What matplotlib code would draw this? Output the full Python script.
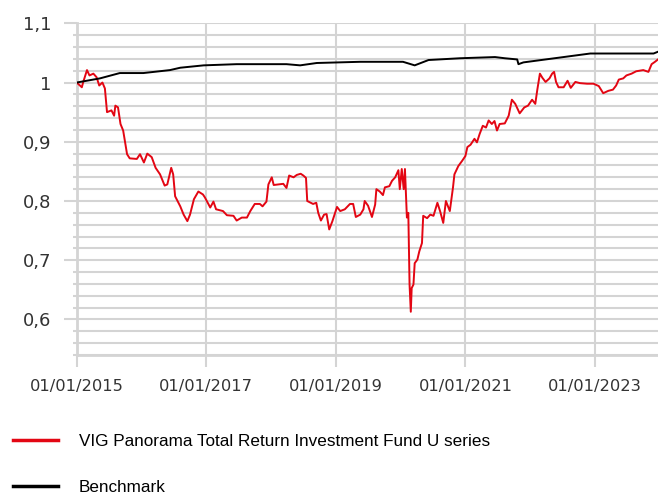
import matplotlib
matplotlib.use('Agg')
import matplotlib.pyplot as plt
import matplotlib.dates as mdates
from matplotlib.ticker import MultipleLocator, FuncFormatter
import pandas as pd

# fund (U series)
fund_dates = [
    '2015-01-01', '2015-01-30', '2015-02-06', '2015-02-28', '2015-03-14', '2015-04-05',
    '2015-04-23', '2015-05-08', '2015-05-26', '2015-06-09', '2015-06-21', '2015-07-16',
    '2015-07-31', '2015-08-07', '2015-08-22', '2015-09-05', '2015-09-20', '2015-10-01',
    '2015-10-12', '2015-10-27', '2015-12-06', '2015-12-24', '2016-01-15', '2016-02-03',
    '2016-02-28', '2016-03-21', '2016-04-15', '2016-05-11', '2016-05-26', '2016-06-17',
    '2016-06-28', '2016-07-09', '2016-08-07', '2016-08-26', '2016-09-16', '2016-10-01',
    '2016-10-23', '2016-11-17', '2016-12-13', '2016-12-24', '2017-01-23', '2017-02-10',
    '2017-02-25', '2017-04-05', '2017-04-27', '2017-06-03', '2017-06-21', '2017-07-20',
    '2017-08-18', '2017-09-06', '2017-10-01', '2017-10-30', '2017-11-14', '2017-12-06',
    '2017-12-17', '2018-01-05', '2018-01-16', '2018-03-11', '2018-03-29', '2018-04-13',
    '2018-05-08', '2018-05-26', '2018-06-17', '2018-07-02', '2018-07-17', '2018-07-24',
    '2018-08-26', '2018-09-13', '2018-09-24', '2018-10-09', '2018-10-27', '2018-11-10',
    '2018-11-25', '2018-12-13', '2019-01-08', '2019-01-26', '2019-02-21', '2019-03-22',
    '2019-04-09', '2019-04-24', '2019-05-19', '2019-06-06', '2019-06-13', '2019-07-02',
    '2019-07-24', '2019-08-11', '2019-08-18', '2019-09-06', '2019-09-24', '2019-10-05',
    '2019-10-30', '2019-11-14', '2019-12-02', '2019-12-20', '2019-12-28', '2020-01-08',
    '2020-01-19', '2020-01-26', '2020-02-06', '2020-02-14', '2020-02-21', '2020-02-28',
    '2020-03-04', '2020-03-14', '2020-03-21', '2020-04-05', '2020-04-16', '2020-05-01',
    '2020-05-08', '2020-05-30', '2020-06-17', '2020-07-05', '2020-07-27', '2020-08-11',
    '2020-08-29', '2020-09-13', '2020-10-05', '2020-10-23', '2020-10-31', '2020-11-22',
    '2020-12-14', '2021-01-01', '2021-01-12', '2021-01-30', '2021-02-21', '2021-03-07',
    '2021-03-22', '2021-04-09', '2021-04-27', '2021-05-12', '2021-05-30', '2021-06-14',
    '2021-06-28', '2021-07-13', '2021-08-11', '2021-09-02', '2021-09-20', '2021-10-09',
    '2021-11-03', '2021-11-29', '2021-12-20', '2022-01-12', '2022-01-30', '2022-02-10',
    '2022-02-25', '2022-03-11', '2022-03-29', '2022-04-20', '2022-05-05', '2022-05-16',
    '2022-05-27', '2022-06-10', '2022-07-09', '2022-07-31', '2022-08-18', '2022-09-13',
    '2022-10-09', '2022-11-18', '2022-12-24', '2023-01-23', '2023-02-17', '2023-03-18',
    '2023-04-13', '2023-05-01', '2023-05-16', '2023-06-10', '2023-06-28', '2023-07-27',
    '2023-08-22', '2023-10-01', '2023-10-30', '2023-11-17', '2023-12-06', '2023-12-23',
]
fund_values = [
    1.000, 0.992, 1.000, 1.021, 1.012, 1.015,
    1.009, 0.995, 1.000, 0.990, 0.950, 0.953,
    0.944, 0.961, 0.958, 0.930, 0.919, 0.899,
    0.879, 0.872, 0.871, 0.879, 0.865, 0.880,
    0.874, 0.856, 0.845, 0.826, 0.828, 0.856,
    0.845, 0.808, 0.791, 0.777, 0.766, 0.777,
    0.803, 0.816, 0.811, 0.806, 0.789, 0.799,
    0.786, 0.783, 0.776, 0.775, 0.767, 0.772,
    0.772, 0.783, 0.795, 0.795, 0.791, 0.799,
    0.828, 0.840, 0.827, 0.829, 0.822, 0.843,
    0.840, 0.844, 0.846, 0.843, 0.839, 0.800,
    0.795, 0.797, 0.780, 0.767, 0.777, 0.778,
    0.752, 0.766, 0.790, 0.783, 0.786, 0.795,
    0.795, 0.773, 0.777, 0.786, 0.800, 0.792,
    0.773, 0.794, 0.820, 0.816, 0.810, 0.823,
    0.825, 0.834, 0.840, 0.852, 0.820, 0.854,
    0.820, 0.854, 0.772, 0.780, 0.659, 0.613,
    0.653, 0.659, 0.695, 0.701, 0.715, 0.729,
    0.775, 0.771, 0.777, 0.775, 0.797, 0.783,
    0.763, 0.800, 0.783, 0.823, 0.845, 0.859,
    0.868, 0.876, 0.891, 0.895, 0.905, 0.899,
    0.913, 0.927, 0.924, 0.936, 0.930, 0.935,
    0.919, 0.930, 0.931, 0.944, 0.971, 0.964,
    0.948, 0.958, 0.961, 0.971, 0.964, 0.987,
    1.015, 1.008, 1.001, 1.007, 1.015, 1.018,
    1.001, 0.992, 0.992, 1.003, 0.991, 1.001,
    0.999, 0.998, 0.998, 0.994, 0.982, 0.986,
    0.988, 0.995, 1.005, 1.007, 1.012, 1.015,
    1.019, 1.021, 1.018, 1.031, 1.035, 1.039,
]

bench_dates = [
    '2015-01-01', '2015-05-12', '2015-09-01', '2016-01-12', '2016-06-10', '2016-08-07',
    '2016-12-17', '2017-06-21', '2018-03-29', '2018-06-14', '2018-09-16', '2019-05-19',
    '2020-01-15', '2020-03-21', '2020-06-07', '2020-12-02', '2021-06-17', '2021-08-11',
    '2021-10-20', '2021-10-27', '2021-11-24', '2022-12-06', '2023-11-28', '2023-12-23',
]
bench_values = [
    1.000, 1.007, 1.016, 1.016, 1.021, 1.025,
    1.029, 1.031, 1.031, 1.029, 1.033, 1.035,
    1.035, 1.029, 1.038, 1.041, 1.043, 1.041,
    1.039, 1.031, 1.034, 1.049, 1.049, 1.052,
]

tick_dates = ['2015-01-01', '2017-01-01', '2019-01-01', '2021-01-01', '2023-01-01']

labels = ['VIG Panorama Total Return Investment Fund U series', 'Benchmark']
colors = ['#e30613', '#000000']

fund_x = pd.to_datetime(fund_dates)
bench_x = pd.to_datetime(bench_dates)

grid_col = '#d4d4d4'
txt_col = '#333333'

fig = plt.figure(figsize=(6.58, 4.97), dpi=100)
ax = fig.add_axes([76.7 / 658, 1 - 355 / 497, 1 - 76.7 / 658, (355 - 23.3) / 497])

l1, = ax.plot(fund_x, fund_values, color=colors[0], lw=1.4, zorder=3)
l2, = ax.plot(bench_x, bench_values, color=colors[1], lw=1.4, zorder=3)

ax.set_ylim(0.54, 1.1)
ax.set_xlim(pd.Timestamp('2015-01-01'), pd.Timestamp('2023-12-23'))

ax.yaxis.set_major_locator(MultipleLocator(0.1))
ax.yaxis.set_minor_locator(MultipleLocator(0.02))
ax.yaxis.set_major_formatter(FuncFormatter(lambda v, p: ('%g' % round(v, 2)).replace('.', ',')))
ax.set_xticks(pd.to_datetime(tick_dates))
ax.xaxis.set_major_formatter(mdates.DateFormatter('%d/%m/%Y'))

ax.grid(True, which='both', axis='y', color=grid_col, lw=1.5)
ax.grid(True, which='major', axis='x', color=grid_col, lw=1.5)
ax.set_axisbelow(True)

for s in ['top', 'right']:
    ax.spines[s].set_visible(False)
for s in ['left', 'bottom']:
    ax.spines[s].set_color(grid_col)
    ax.spines[s].set_linewidth(2)

ax.tick_params(axis='y', which='major', length=9.5, width=1.5, color=grid_col,
               pad=9, labelsize=13, labelcolor=txt_col)
ax.tick_params(axis='y', which='minor', length=3, width=1.5, color=grid_col)
ax.tick_params(axis='x', which='major', length=8.5, width=1.5, color=grid_col,
               pad=9, labelsize=11.7, labelcolor=txt_col)

fig.legend([l1, l2], labels, loc='upper left', bbox_to_anchor=(13 / 658, 0.126),
           frameon=False, borderpad=0, borderaxespad=0, handlelength=2.65,
           handletextpad=1.2, labelspacing=1.8,
           prop={'family': 'Liberation Sans', 'size': 12.3})
for h in fig.legends[0].legend_handles:
    h.set_linewidth(2.5)

plt.savefig('out.png', dpi=100)
